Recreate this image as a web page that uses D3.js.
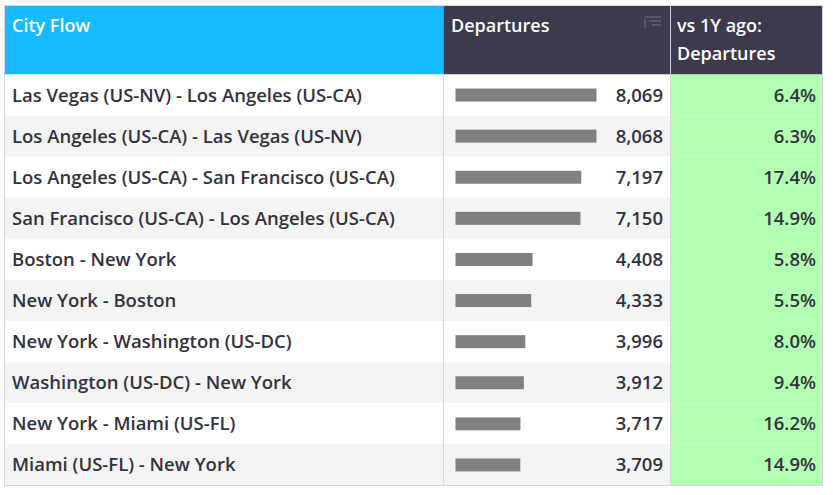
<!DOCTYPE html>
<html><head><meta charset="utf-8">
<script src="https://cdn.jsdelivr.net/npm/d3@7"></script>
<style>body{margin:0;background:#fff}text{font-family:"Open Sans",sans-serif}</style>
</head><body>
<script>
// table data
const flows = ["Las Vegas (US-NV) - Los Angeles (US-CA)", "Los Angeles (US-CA) - Las Vegas (US-NV)",
  "Los Angeles (US-CA) - San Francisco (US-CA)", "San Francisco (US-CA) - Los Angeles (US-CA)",
  "Boston - New York", "New York - Boston", "New York - Washington (US-DC)",
  "Washington (US-DC) - New York", "New York - Miami (US-FL)", "Miami (US-FL) - New York"];
const departures = [8069, 8068, 7197, 7150, 4408, 4333, 3996, 3912, 3717, 3709];
const change = [6.4, 6.3, 17.4, 14.9, 5.8, 5.5, 8.0, 9.4, 16.2, 14.9];
const headers = ["City Flow", "Departures", "vs 1Y ago:"];

const W = 833, H = 495;
const tLeft = 4.5, tTop = 5.5, headH = 69, rowH = 41.1;
const c1 = 443.5, c2 = 670.5, tRight = 822.5;

const svg = d3.select("body").append("svg").attr("width", W).attr("height", H);

const y = d3.scaleBand().domain(d3.range(flows.length))
  .range([tTop + headH, tTop + headH + rowH * flows.length]);
const x = d3.scaleLinear().domain([0, 8069]).range([0, 141]);

// header
svg.append("rect").attr("x", tLeft).attr("y", tTop).attr("width", c1 - tLeft).attr("height", headH).attr("fill", "#17b9ff");
svg.append("rect").attr("x", c1).attr("y", tTop).attr("width", tRight - c1).attr("height", headH).attr("fill", "#3c3a4c");
svg.append("line").attr("x1", c2).attr("x2", c2).attr("y1", tTop).attr("y2", tTop + headH).attr("stroke", "#c8c8d0");
function hText(s, tx, ty) {
  svg.append("text").attr("x", tx).attr("y", ty).attr("font-size", "18px")
    .attr("font-weight", 600).attr("fill", "#fff").text(s);
}
hText(headers[0], 12, 32);
hText(headers[1], 451, 32);
hText(headers[2], 677, 32);
hText("Departures", 677, 60);
// sort icon
const ic = svg.append("g").attr("stroke", "#6a6878").attr("stroke-width", 1.2);
[[645, 661, 17], [649, 661, 21], [652, 661, 25]].forEach(d =>
  ic.append("line").attr("x1", d[0]).attr("x2", d[1]).attr("y1", d[2]).attr("y2", d[2]));
ic.append("line").attr("x1", 645).attr("x2", 645).attr("y1", 19).attr("y2", 28);

// rows
const rows = svg.selectAll("g.row").data(flows).join("g").attr("class", "row")
  .attr("transform", (d, i) => `translate(0,${y(i)})`);
rows.append("rect").attr("x", tLeft).attr("width", c2 - tLeft).attr("height", rowH)
  .attr("fill", (d, i) => i % 2 ? "#f4f4f4" : "#fff");
rows.append("rect").attr("x", c2).attr("width", tRight - c2).attr("height", rowH).attr("fill", "#b3ffb3");
rows.append("text").attr("x", 12).attr("y", rowH / 2 + 6.5).attr("font-size", "18.5px").attr("font-weight", 600)
  .attr("fill", "#33323f").text(d => d);
rows.append("rect").attr("x", 455.5).attr("y", rowH / 2 - 6.5).attr("height", 13)
  .attr("width", (d, i) => x(departures[i])).attr("fill", "#808080");
rows.append("text").attr("x", 663).attr("y", rowH / 2 + 6.5).attr("text-anchor", "end")
  .attr("font-size", "18.5px").attr("font-weight", 600).attr("fill", "#33323f")
  .text((d, i) => d3.format(",")(departures[i]));
rows.append("text").attr("x", 816).attr("y", rowH / 2 + 6.5).attr("text-anchor", "end")
  .attr("font-size", "18.5px").attr("font-weight", 600).attr("fill", "#33323f")
  .text((d, i) => change[i].toFixed(1) + "%");

// borders
const bottom = tTop + headH + rowH * flows.length;
const g = svg.append("g").attr("stroke", "#d6d6de").attr("fill", "none");
g.append("rect").attr("x", tLeft).attr("y", tTop).attr("width", tRight - tLeft).attr("height", bottom - tTop);
[c1, c2].forEach(cx => g.append("line").attr("x1", cx).attr("x2", cx).attr("y1", tTop + headH).attr("y2", bottom));
</script>
</body></html>
